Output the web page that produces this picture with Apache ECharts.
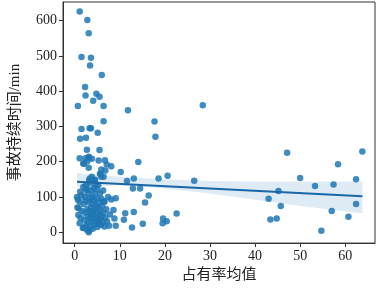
<!DOCTYPE html>
<html>
<head>
<meta charset="utf-8">
<script src="https://cdn.jsdelivr.net/npm/echarts@6/dist/echarts.min.js"></script>
<style>
    html, body { margin: 0; padding: 0; background: #fff; }
    #main { width: 378px; height: 288px; }
</style>
</head>
<body>
<div id="main"></div>
<script>
// 散点数据 [占有率均值, 事故持续时间]
var highPts = [
    [1.1, 626], [2.8, 602], [3.1, 564], [1.5, 497], [3.6, 495], [3.4, 473], [6.0, 446],
    [2.3, 412], [2.4, 388], [4.8, 393], [5.5, 384], [4.1, 373], [0.7, 358], [6.4, 358],
    [11.8, 346], [6.4, 315], [17.7, 314], [1.5, 293], [3.3, 295], [3.6, 295], [5.1, 282],
    [1.2, 265], [2.5, 268], [17.9, 271], [28.4, 360]
];
var midPts = [
    [2.7, 234], [5.5, 233], [1.1, 210], [2.4, 210], [3.2, 211], [3.8, 208], [1.9, 195],
    [2.8, 201], [3.1, 183], [5.3, 203], [6.7, 204], [7.1, 192], [5.9, 178], [8.1, 187],
    [10.2, 171], [5.7, 164], [6.4, 157], [3.8, 157], [3.2, 149], [4.4, 147], [11.6, 145],
    [13.1, 152], [14.1, 199], [18.6, 152], [20.6, 160], [26.5, 146], [6.8, 175], [3.1, 214],
    [2.0, 194], [5.6, 166], [3.4, 152], [4.5, 149], [5.9, 157]
];
var lowPts = [
    [0.5, 100], [0.6, 70], [0.8, 49], [0.9, 68], [1.1, 86], [1.1, 25], [1.3, 40], [1.5, 105],
    [1.6, 60], [1.8, 12], [2.0, 13], [2.0, 80], [2.1, 35], [2.2, 100], [2.3, 55], [2.4, 120],
    [2.5, 133], [2.5, 90], [2.6, 20], [2.7, 7], [2.7, 124], [2.8, 65], [2.9, 45], [3.0, 110],
    [3.0, 28], [3.1, 0], [3.1, 85], [3.2, 5], [3.3, 60], [3.4, 40], [3.4, 95], [3.5, 15],
    [3.6, 118], [3.6, 70], [3.7, 50], [3.8, 30], [3.9, 100], [4.0, 80], [4.0, 10], [4.1, 58],
    [4.2, 125], [4.2, 38], [4.3, 90], [4.4, 22], [4.5, 65], [4.5, 108], [4.6, 45], [4.7, 75],
    [4.8, 30], [4.9, 121], [4.9, 55], [5.0, 95], [5.0, 15], [5.1, 40], [5.2, 133], [5.2, 70],
    [5.3, 25], [5.4, 85], [5.5, 50], [5.6, 110], [5.6, 35], [5.7, 62], [5.8, 20], [5.9, 95],
    [6.0, 45], [6.1, 75], [6.2, 28], [6.3, 118], [6.4, 55], [6.5, 88], [6.6, 16], [6.6, 86],
    [6.8, 40], [7.0, 65], [7.2, 30], [7.4, 100], [7.6, 18], [7.8, 50], [8.1, 93], [9.1, 96],
    [8.6, 63], [8.8, 39], [9.1, 18], [3.3, 140], [4.6, 135], [1.9, 128], [0.7, 92], [1.2, 115]
];
var spreadPts = [
    [12.9, 124], [14.5, 124], [16.4, 104], [15.6, 84], [11.2, 54], [13.1, 57], [10.9, 35],
    [12.7, 13], [15.1, 24], [22.6, 53], [19.6, 39], [20.4, 31], [19.5, 25]
];
var farPts = [
    [47.1, 225], [63.8, 229], [58.4, 193], [50.0, 154], [62.4, 150], [53.3, 131], [57.4, 135],
    [45.2, 117], [43.0, 95], [45.7, 74], [57.0, 60], [62.4, 80], [60.7, 44], [43.4, 36],
    [44.8, 39], [54.7, 4]
];

// 回归线与置信区间
var fitX = [0.5, 63.8];
var fitY = [143, 102];
var bandX = [0.5, 10, 20, 30, 40, 50, 63.8];
var bandUpper = [168, 157, 150, 145, 143, 143, 143];
var bandLower = [127, 133, 124, 110, 92, 74, 54];

var xTicks = [0, 10, 20, 30, 40, 50, 60];
var yTicks = [0, 100, 200, 300, 400, 500, 600];

var scatterData = highPts.concat(midPts, lowPts, spreadPts, farPts);
var fitData = fitX.map(function (x, i) { return [x, fitY[i]]; });

var serif = "'Liberation Serif', 'Noto Sans CJK SC', serif";
var chart = echarts.init(document.getElementById('main'));
var option = {
    animation: false,
    grid: {
        left: 52,
        right: 3,
        top: 2,
        bottom: 43,
        show: true,
        borderColor: '#333',
        borderWidth: 1
    },
    xAxis: {
        type: 'value',
        min: -2.6,
        max: 66.6,
        name: '占有率均值',
        nameLocation: 'middle',
        nameGap: 22,
        nameTextStyle: { fontFamily: serif, fontSize: 15, color: '#222' },
        splitLine: { show: false },
        axisLine: { show: true, onZero: false, lineStyle: { color: '#333', width: 1 } },
        axisTick: { show: true, inside: false, length: 4, customValues: xTicks, lineStyle: { color: '#333' } },
        axisLabel: { customValues: xTicks, fontFamily: serif, fontSize: 14, color: '#222', margin: 6 }
    },
    yAxis: {
        type: 'value',
        min: -31,
        max: 653,
        name: '事故持续时间/min',
        nameLocation: 'middle',
        nameGap: 40,
        nameTextStyle: { fontFamily: serif, fontSize: 15, color: '#222' },
        splitLine: { show: false },
        axisLine: { show: true, onZero: false, lineStyle: { color: '#333', width: 1 } },
        axisTick: { show: true, inside: false, length: 4, customValues: yTicks, lineStyle: { color: '#333' } },
        axisLabel: { customValues: yTicks, fontFamily: serif, fontSize: 14, color: '#222', margin: 6 }
    },
    series: [
        {
            // 置信区间带
            type: 'custom',
            silent: true,
            z: 1,
            data: [0],
            renderItem: function (params, api) {
                var pts = [];
                bandX.forEach(function (x, i) { pts.push(api.coord([x, bandUpper[i]])); });
                for (var i = bandX.length - 1; i >= 0; i--) {
                    pts.push(api.coord([bandX[i], bandLower[i]]));
                }
                return {
                    type: 'polygon',
                    shape: { points: pts },
                    style: { fill: 'rgba(31,119,180,0.15)' }
                };
            }
        },
        {
            type: 'scatter',
            z: 2,
            symbolSize: 6.5,
            itemStyle: { color: '#1f77b4', opacity: 0.85 },
            data: scatterData
        },
        {
            type: 'line',
            z: 3,
            showSymbol: false,
            lineStyle: { color: '#1a66a8', width: 2 },
            data: fitData
        }
    ]
};
chart.setOption(option);
</script>
</body>
</html>
